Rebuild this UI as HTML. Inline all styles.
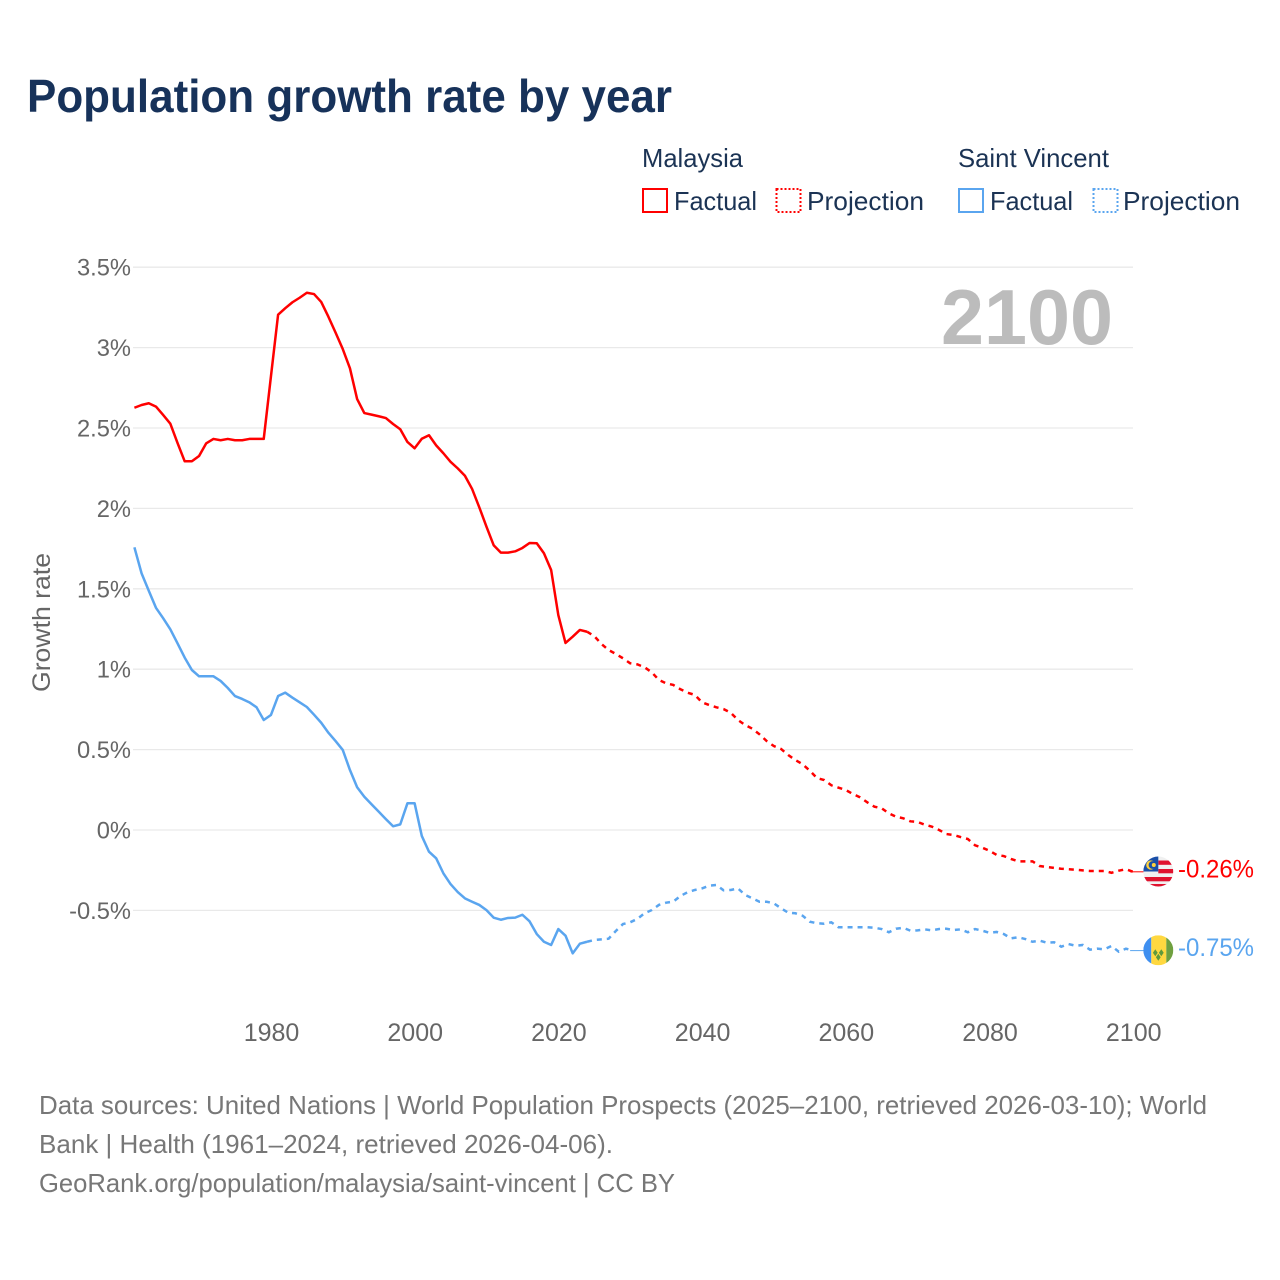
<!DOCTYPE html>
<html lang="en">
<head>
<meta charset="utf-8">
<title>Population growth rate by year</title>
<style>
html,body{margin:0;padding:0;background:#fff;width:1280px;height:1280px;overflow:hidden}
svg{display:block;font-family:"Liberation Sans",sans-serif}
</style>
</head>
<body>
<svg id="chart" xmlns="http://www.w3.org/2000/svg" width="1280" height="1280" viewBox="0 0 1280 1280">
  <rect width="1280" height="1280" fill="#fff"/>
  <text x="27" y="112" font-size="46" font-weight="700" fill="#17325a" textLength="645" lengthAdjust="spacingAndGlyphs">Population growth rate by year</text>

  <g font-size="26" fill="#1b3354">
    <text x="642" y="167" textLength="101" lengthAdjust="spacingAndGlyphs">Malaysia</text>
    <text x="958" y="167" textLength="151" lengthAdjust="spacingAndGlyphs">Saint Vincent</text>
    <g>
      <rect x="643" y="189" width="24" height="23" fill="none" stroke="#ff0000" stroke-width="2"/>
      <text x="674" y="210" textLength="83" lengthAdjust="spacingAndGlyphs">Factual</text>
    </g>
    <g>
      <rect x="776.5" y="189" width="24" height="23" fill="none" stroke="#ff0000" stroke-width="2" stroke-dasharray="2 2"/>
      <text x="807" y="210" textLength="117" lengthAdjust="spacingAndGlyphs">Projection</text>
    </g>
    <g>
      <rect x="959" y="189" width="24" height="23" fill="none" stroke="#5aa5ef" stroke-width="2"/>
      <text x="990" y="210" textLength="83" lengthAdjust="spacingAndGlyphs">Factual</text>
    </g>
    <g>
      <rect x="1093.5" y="189" width="24" height="23" fill="none" stroke="#5aa5ef" stroke-width="2" stroke-dasharray="2 2"/>
      <text x="1123" y="210" textLength="117" lengthAdjust="spacingAndGlyphs">Projection</text>
    </g>
  </g>

  <g id="grid"></g>
  <g id="yticks" font-size="23.7" fill="#666" text-anchor="end"></g>
  <g id="xticks" font-size="25" fill="#666" text-anchor="middle"></g>
  <text transform="translate(50,692) rotate(-90)" font-size="25" fill="#666" textLength="139" lengthAdjust="spacingAndGlyphs">Growth rate</text>
  <text x="1113" y="344" text-anchor="end" font-size="78" font-weight="700" fill="#bcbcbc" textLength="172" lengthAdjust="spacingAndGlyphs">2100</text>

  <g id="series"></g>

  <defs>
    <clipPath id="flag-clip"><circle cx="0" cy="0" r="15"/></clipPath>
  </defs>
  <g id="flag-malaysia">
    <g clip-path="url(#flag-clip)">
      <rect x="-15" y="-15" width="30" height="30" fill="#f0f0f0"/>
      <rect x="0" y="-11" width="15" height="4.3" fill="#e0122e"/>
      <rect x="0" y="-2.5" width="15" height="4.3" fill="#e0122e"/>
      <rect x="-15" y="5.5" width="30" height="4.3" fill="#e0122e"/>
      <rect x="-15" y="12.5" width="30" height="4" fill="#e0122e"/>
      <rect x="-15" y="-15" width="15" height="15" fill="#1a4fa8"/>
      <circle cx="-7.5" cy="-6.5" r="4.6" fill="#ffd23c"/>
      <circle cx="-5.8" cy="-6.5" r="3.9" fill="#1a4fa8"/>
      <circle cx="-4.5" cy="-6.5" r="2" fill="#ffd23c"/>
    </g>
  </g>
  <g id="flag-saint-vincent">
    <g clip-path="url(#flag-clip)">
      <rect x="-15" y="-15" width="8" height="30" fill="#3f8ff0"/>
      <rect x="-7" y="-15" width="15" height="30" fill="#ffd840"/>
      <rect x="8" y="-15" width="7" height="30" fill="#6fa040"/>
      <path d="M-3 -1 L-0.6 2.5 L-3 6 L-5.4 2.5 Z" fill="#5f9a3c"/>
      <path d="M3 -1 L5.4 2.5 L3 6 L0.6 2.5 Z" fill="#5f9a3c"/>
      <path d="M0 3.5 L2.4 7 L0 10.5 L-2.4 7 Z" fill="#5f9a3c"/>
    </g>
  </g>

  <g font-size="26" fill="#777">
    <text x="39" y="1114" textLength="1168" lengthAdjust="spacingAndGlyphs">Data sources: United Nations | World Population Prospects (2025–2100, retrieved 2026-03-10); World</text>
    <text x="39" y="1153" textLength="574" lengthAdjust="spacingAndGlyphs">Bank | Health (1961–2024, retrieved 2026-04-06).</text>
    <text x="39" y="1192" textLength="636" lengthAdjust="spacingAndGlyphs">GeoRank.org/population/malaysia/saint-vincent | CC BY</text>
  </g>
</svg>

<script>
const firstFactualYear = 1961;
const firstProjectionYear = 2025;
const xTickYears = [1980, 2000, 2020, 2040, 2060, 2080, 2100];
const yTickValues = [-0.5, 0, 0.5, 1, 1.5, 2, 2.5, 3, 3.5];
const yTickLabels = ["-0.5%", "0%", "0.5%", "1%", "1.5%", "2%", "2.5%", "3%", "3.5%"];

const malaysiaFactual = [2.626,2.643,2.654,2.633,2.581,2.527,2.407,2.293,2.293,2.326,2.405,2.432,2.424,2.432,2.424,2.424,2.432,2.432,2.432,2.819,3.205,3.245,3.282,3.310,3.341,3.333,3.284,3.192,3.093,2.991,2.871,2.680,2.593,2.583,2.573,2.562,2.525,2.492,2.413,2.374,2.433,2.455,2.392,2.343,2.290,2.249,2.203,2.121,2.007,1.886,1.771,1.725,1.725,1.733,1.754,1.785,1.783,1.721,1.617,1.337,1.163,1.202,1.244,1.233];
const malaysiaProjection = [1.206,1.157,1.119,1.095,1.068,1.037,1.030,1.012,0.981,0.933,0.912,0.902,0.875,0.854,0.840,0.794,0.777,0.763,0.752,0.729,0.684,0.653,0.630,0.595,0.553,0.522,0.504,0.466,0.435,0.409,0.369,0.323,0.311,0.278,0.263,0.249,0.224,0.203,0.172,0.145,0.135,0.104,0.083,0.073,0.054,0.050,0.033,0.021,0,-0.025,-0.031,-0.044,-0.056,-0.095,-0.110,-0.129,-0.155,-0.162,-0.180,-0.195,-0.195,-0.195,-0.224,-0.230,-0.236,-0.241,-0.244,-0.247,-0.251,-0.255,-0.255,-0.255,-0.266,-0.253,-0.244,-0.26];

const saintVincentFactual = [1.758,1.596,1.488,1.382,1.317,1.248,1.161,1.072,0.995,0.956,0.956,0.956,0.927,0.883,0.833,0.815,0.794,0.763,0.684,0.715,0.833,0.854,0.823,0.794,0.765,0.717,0.667,0.605,0.553,0.498,0.373,0.266,0.207,0.160,0.114,0.068,0.023,0.035,0.166,0.166,-0.037,-0.135,-0.176,-0.269,-0.336,-0.386,-0.425,-0.446,-0.466,-0.498,-0.545,-0.558,-0.547,-0.545,-0.527,-0.568,-0.647,-0.695,-0.715,-0.616,-0.657,-0.767,-0.707,-0.695];
const saintVincentProjection = [-0.684,-0.680,-0.676,-0.628,-0.585,-0.574,-0.553,-0.518,-0.498,-0.466,-0.452,-0.446,-0.410,-0.387,-0.373,-0.363,-0.346,-0.342,-0.375,-0.373,-0.363,-0.404,-0.425,-0.446,-0.446,-0.456,-0.487,-0.514,-0.518,-0.533,-0.570,-0.580,-0.583,-0.574,-0.605,-0.605,-0.605,-0.605,-0.605,-0.608,-0.616,-0.636,-0.614,-0.608,-0.626,-0.624,-0.618,-0.624,-0.616,-0.614,-0.622,-0.618,-0.636,-0.616,-0.626,-0.639,-0.634,-0.647,-0.674,-0.667,-0.678,-0.695,-0.688,-0.701,-0.698,-0.726,-0.709,-0.720,-0.715,-0.744,-0.738,-0.742,-0.721,-0.757,-0.738,-0.75];

const NS = "http://www.w3.org/2000/svg";
const xAxis = year => 134.4 + (year - 1961) * 7.185;
const yAxis = value => 830 - value * 160.8;

function factualPath(values) {
  return values.map((v, i) => (i ? "L" : "M") + xAxis(firstFactualYear + i).toFixed(2) + " " + yAxis(v).toFixed(2)).join(" ");
}
function projectionPath(factual, values) {
  const startYear = firstProjectionYear - 1;
  const all = [factual[factual.length - 1]].concat(values);
  return all.map((v, i) => (i ? "L" : "M") + xAxis(startYear + i).toFixed(2) + " " + yAxis(v).toFixed(2)).join(" ");
}

const grid = document.getElementById("grid");
const yTicks = document.getElementById("yticks");
yTickValues.forEach((v, i) => {
  const line = document.createElementNS(NS, "line");
  
  
  line.setAttribute("x1", 133);
  line.setAttribute("x2", 1133);
  line.setAttribute("y1", yAxis(v));
  line.setAttribute("y2", yAxis(v));
  line.setAttribute("stroke", "#e9e9e9");
  line.setAttribute("stroke-width", "1.3");
  grid.appendChild(line);
  const label = document.createElementNS(NS, "text");
  
  
  label.setAttribute("x", 131);
  label.setAttribute("y", yAxis(v) + 8.5);
  label.textContent = yTickLabels[i];
  yTicks.appendChild(label);
});

const xTicks = document.getElementById("xticks");
xTickYears.forEach(year => {
  const label = document.createElementNS(NS, "text");
  
  
  label.setAttribute("x", xAxis(year) + 0.6);
  label.setAttribute("y", 1041);
  label.textContent = year;
  xTicks.appendChild(label);
});

const series = document.getElementById("series");
function drawSeries(key, color, factual, projection, flagId) {
  const solid = document.createElementNS(NS, "path");
  
  
  solid.setAttribute("d", factualPath(factual));
  solid.setAttribute("fill", "none");
  solid.setAttribute("stroke", color);
  solid.setAttribute("stroke-width", "2.5");
  solid.setAttribute("stroke-linejoin", "round");
  series.appendChild(solid);

  const dashed = document.createElementNS(NS, "path");
  
  
  dashed.setAttribute("d", projectionPath(factual, projection));
  dashed.setAttribute("fill", "none");
  dashed.setAttribute("stroke", color);
  dashed.setAttribute("stroke-width", "2.5");
  dashed.setAttribute("stroke-dasharray", "5 5");
  series.appendChild(dashed);

  const lastValue = projection[projection.length - 1];
  const lastY = yAxis(lastValue);
  const lastYear = firstProjectionYear + projection.length - 1;

  const connector = document.createElementNS(NS, "line");
  
  
  connector.setAttribute("x1", xAxis(lastYear) - 3);
  connector.setAttribute("x2", 1144);
  connector.setAttribute("y1", lastY);
  connector.setAttribute("y2", lastY);
  connector.setAttribute("stroke", color);
  connector.setAttribute("stroke-width", "1");
  series.appendChild(connector);

  document.getElementById(flagId).setAttribute("transform", "translate(1158.3," + (lastY - 0.3) + ")");

  const endLabel = document.createElementNS(NS, "text");
  
  
  endLabel.setAttribute("x", 1178);
  endLabel.setAttribute("y", lastY + 5.5);
  endLabel.setAttribute("font-size", "25");
  endLabel.setAttribute("fill", color);
  endLabel.setAttribute("textLength", "76");
  endLabel.setAttribute("lengthAdjust", "spacingAndGlyphs");
  endLabel.textContent = lastValue.toFixed(2) + "%";
  series.appendChild(endLabel);
}
drawSeries("malaysia", "#ff0000", malaysiaFactual, malaysiaProjection, "flag-malaysia");
drawSeries("saint-vincent", "#5aa5ef", saintVincentFactual, saintVincentProjection, "flag-saint-vincent");
</script>
</body>
</html>
